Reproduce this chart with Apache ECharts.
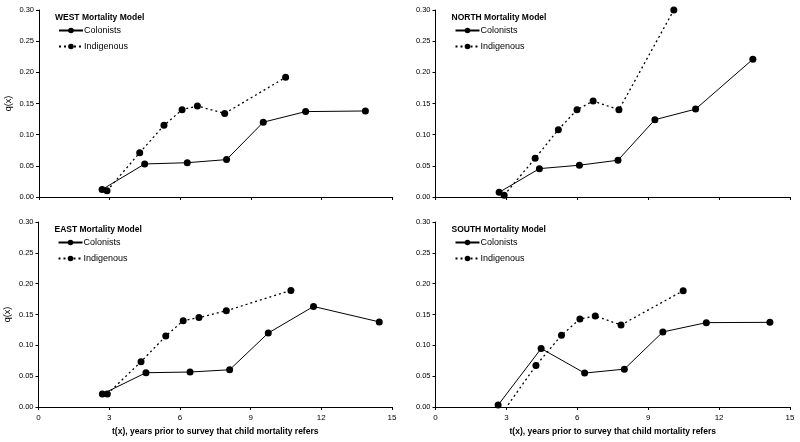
<!DOCTYPE html>
<html><head><meta charset="utf-8">
<script src="https://cdn.jsdelivr.net/npm/echarts@6/dist/echarts.min.js"></script>
<style>html,body{margin:0;padding:0;background:#fff}#c{width:800px;height:442px}</style>
</head><body><div id="c"></div>
<script>
const panelTitles = ['WEST Mortality Model','NORTH Mortality Model','EAST Mortality Model','SOUTH Mortality Model'];
const seriesNames = ['Colonists','Indigenous'];
const xTicks = [0,3,6,9,12,15];
const yTicks = [0,0.05,0.10,0.15,0.20,0.25,0.30];

// WEST
const westColT = [2.68,4.49,6.30,7.97,9.53,11.33,13.87];
const westColQ = [0.012,0.053,0.055,0.060,0.120,0.137,0.138];
const westIndT = [2.89,4.28,5.31,6.08,6.73,7.89,10.48];
const westIndQ = [0.010,0.071,0.115,0.140,0.146,0.134,0.192];
// NORTH
const northColT = [2.69,4.39,6.08,7.71,9.27,10.99,13.41];
const northColQ = [0.0075,0.0455,0.051,0.059,0.124,0.141,0.221];
const northIndT = [2.90,4.21,5.19,5.98,6.66,7.75,10.07];
const northIndQ = [0.003,0.062,0.108,0.140,0.154,0.140,0.300];
// EAST
const eastColT = [2.71,4.56,6.43,8.11,9.75,11.67,14.46];
const eastColQ = [0.021,0.0556,0.0567,0.0604,0.120,0.163,0.138];
const eastIndT = [2.92,4.35,5.40,6.14,6.81,7.97,10.71];
const eastIndQ = [0.021,0.0734,0.115,0.140,0.145,0.156,0.189];
// SOUTH
const southColT = [2.65,4.47,6.31,7.99,9.62,11.46,14.15];
const southColQ = [0.0032,0.0948,0.055,0.0614,0.1217,0.1368,0.1373];
const southIndT = [2.95,4.25,5.33,6.11,6.76,7.85,10.48];
const southIndQ = [-0.003,0.0673,0.1163,0.1427,0.1476,0.1330,0.1885];

const panels = [
  {col:[westColT,westColQ], ind:[westIndT,westIndQ]},
  {col:[northColT,northColQ], ind:[northIndT,northIndQ]},
  {col:[eastColT,eastColQ], ind:[eastIndT,eastIndQ]},
  {col:[southColT,southColQ], ind:[southIndT,southIndQ]}
];
const zip = (a,b) => a.map((v,i)=>[v,b[i]]);

const FONT = '"Liberation Sans", Arial, sans-serif';
const grids = [
  {left:39, width:353, top:10, height:187},
  {left:435.5, width:355, top:10, height:187},
  {left:38.5, width:353.5, top:222, height:185},
  {left:435.5, width:354.5, top:222, height:185}
];

const option = {
  animation:false,
  backgroundColor:'#fff',
  textStyle:{fontFamily:FONT},
  grid: grids,
  title: grids.map((g,i)=>({
    text: panelTitles[i], left: g.left+16, top: g.top+3, padding:0,
    textStyle:{fontFamily:FONT,fontSize:8.5,fontWeight:'bold',color:'#000'}
  })),
  legend: grids.map((g,i)=>({
    data: seriesNames, orient:'vertical', left: g.left+19, top: g.top+16, padding:0,
    itemWidth:24, itemHeight:7, itemGap:7,
    textStyle:{fontFamily:FONT,fontSize:9,color:'#000',padding:[0,0,0,-4]},
    selectedMode:false
  })),
  xAxis: grids.map((g,i)=>({
    type:'value', gridIndex:i, min:0, max:15, interval:3,
    axisLine:{show:true,onZero:false,lineStyle:{color:'#000',width:1}},
    axisTick:{show:true,length:3,lineStyle:{color:'#000'}},
    axisLabel:{show:i>=2,fontFamily:FONT,fontSize:8,color:'#000',margin:7,
      formatter:v=>xTicks.includes(v)?String(v):''},
    splitLine:{show:false},
    name: i>=2 ? 't(x), years prior to survey that child mortality refers' : '',
    nameLocation:'middle', nameGap:20,
    nameTextStyle:{fontFamily:FONT,fontSize:8.5,fontWeight:'bold',color:'#000'}
  })),
  yAxis: grids.map((g,i)=>({
    type:'value', gridIndex:i, min:0, max:0.30, interval:0.05,
    axisLine:{show:true,lineStyle:{color:'#000',width:1}},
    axisTick:{show:true,length:3,lineStyle:{color:'#000'}},
    axisLabel:{fontFamily:FONT,fontSize:7.5,color:'#000',margin:5,
      formatter:v=>yTicks.some(t=>Math.abs(t-v)<1e-9)?v.toFixed(2):''},
    splitLine:{show:false},
    name: (i%2===0)?'q(x)':'',
    nameLocation:'middle', nameGap:26, nameRotate:90,
    nameTextStyle:{fontFamily:FONT,fontSize:9,color:'#000'}
  })),
  series: []
};

panels.forEach((p,i)=>{
  option.series.push({
    name:'Colonists', type:'line', xAxisIndex:i, yAxisIndex:i,
    data: zip(p.col[0],p.col[1]), clip:true,
    symbol:'circle', symbolSize:7,
    itemStyle:{color:'#000'},
    lineStyle:{color:'#000',width:1,type:'solid'}
  });
  option.series.push({
    name:'Indigenous', type:'line', xAxisIndex:i, yAxisIndex:i,
    data: zip(p.ind[0],p.ind[1]), clip:true,
    symbol:'circle', symbolSize:7,
    itemStyle:{color:'#000'},
    lineStyle:{color:'#000',width:1.3,type:[2,3]}
  });
});

const chart = echarts.init(document.getElementById('c'),null,{renderer:'canvas'});
chart.setOption(option);
</script></body></html>
